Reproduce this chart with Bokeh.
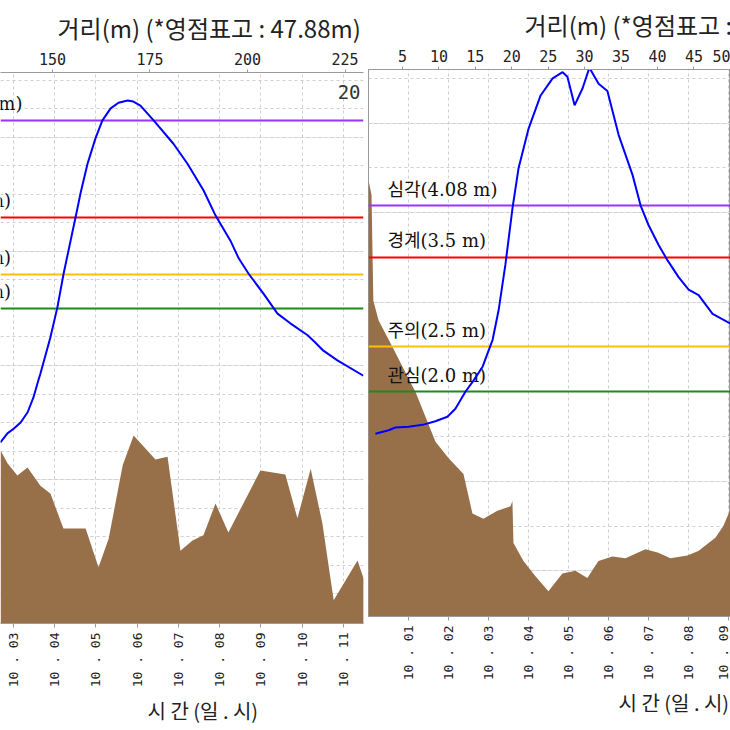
import math
from bokeh.plotting import figure
from bokeh.models import Range1d, LinearAxis, FixedTicker, Grid, Label, Title
from bokeh.layouts import row
from bokeh.embed import file_html
from bokeh.resources import INLINE
from bokeh.core.properties import value

# ---------------- texts ----------------
distance_title = "거리(m) (*영점표고 : 47.88m)"
time_title = "시 간 (일 . 시)"

threshold_colors = ["#9933ff", "#ff0000", "#ffc000", "#1a8c1a"]

# ---------------- left panel data ----------------
# time in hours from day 10, 00:00
left_time_ticks = [3, 4, 5, 6, 7, 8, 9, 10, 11]
left_time_labels = ["10 . 03", "10 . 04", "10 . 05", "10 . 06", "10 . 07",
                    "10 . 08", "10 . 09", "10 . 10", "10 . 11"]
left_dist_ticks = [150, 175, 200, 225]

left_level_t = [2.69, 2.86, 3.01, 3.18, 3.35, 3.49, 3.61, 3.66, 3.90, 4.07, 4.22,
                4.51, 4.63, 4.80, 4.99, 5.16, 5.36, 5.55, 5.77, 5.91, 6.08, 6.40,
                6.88, 7.22, 7.61, 7.90, 8.26, 8.46, 8.70, 9.06, 9.40, 9.71, 10.13,
                10.32, 10.51, 10.85, 11.48]
left_level = [2.65, 2.81, 2.89, 3.00, 3.18, 3.44, 3.74, 3.86, 4.49, 5.02, 5.61,
              6.60, 7.02, 7.54, 7.98, 8.30, 8.51, 8.61, 8.65, 8.63, 8.56, 8.30,
              7.89, 7.54, 7.07, 6.63, 6.19, 5.88, 5.61, 5.26, 4.91, 4.74, 4.53,
              4.40, 4.26, 4.09, 3.82]

left_ground_d = [136.7, 138.5, 141.0, 143.6, 146.9, 149.5, 152.8, 158.5, 161.8,
                 164.4, 168.0, 170.8, 176.4, 179.5, 182.8, 185.9, 188.7, 191.8,
                 195.1, 203.3, 209.7, 212.8, 216.2, 219.2, 222.1, 228.2, 229.8]
left_ground_z = [2.51, 2.28, 2.07, 2.21, 1.89, 1.75, 1.14, 1.14, 0.46, 0.96, 2.25,
                 2.77, 2.35, 2.40, 0.75, 0.93, 1.02, 1.58, 1.07, 2.16, 2.09, 1.32,
                 2.19, 1.23, -0.12, 0.58, 0.26]

left_threshold_values = [8.30, 6.6, 5.6, 5.0]
left_threshold_labels = ["심각(8.30 m)", "경계(6.6 m)", "주의(5.6 m)", "관심(5.0 m)"]

# ---------------- right panel data ----------------
right_time_ticks = [1, 2, 3, 4, 5, 6, 7, 8, 9]
right_time_labels = ["10 . 01", "10 . 02", "10 . 03", "10 . 04", "10 . 05",
                     "10 . 06", "10 . 07", "10 . 08", "10 . 09"]
right_dist_ticks = [5, 10, 15, 20, 25, 30, 35, 40, 45, 50]

right_level_t = [0.18, 0.51, 0.68, 1.01, 1.36, 1.68, 1.98, 2.18, 2.43, 2.61, 2.86,
                 3.11, 3.26, 3.43, 3.61, 3.76, 4.01, 4.31, 4.61, 4.86, 4.98, 5.16,
                 5.36, 5.53, 5.76, 5.98, 6.26, 6.61, 6.81, 7.01, 7.26, 7.48, 7.76,
                 8.01, 8.26, 8.61, 9.06]
right_level = [1.53, 1.57, 1.60, 1.61, 1.63, 1.67, 1.72, 1.81, 2.00, 2.11, 2.28,
               2.58, 2.91, 3.42, 4.06, 4.50, 4.94, 5.31, 5.50, 5.57, 5.52, 5.20,
               5.39, 5.62, 5.44, 5.36, 4.87, 4.42, 4.08, 3.86, 3.64, 3.47, 3.28,
               3.14, 3.08, 2.87, 2.76]

right_ground_d = [0.34, 0.75, 1.0, 1.71, 3.63, 6.37, 6.78, 9.53, 11.31, 13.37, 14.6,
                  16.1, 18.03, 19.82, 20.09, 20.23, 21.6, 23.25, 25.03, 26.95,
                  28.74, 30.38, 31.89, 33.81, 35.6, 38.34, 40.12, 41.77, 44.1,
                  45.6, 47.94, 49.04, 50.02]
right_ground_z = [4.36, 4.20, 3.02, 2.80, 2.50, 2.06, 2.00, 1.44, 1.26, 1.08, 0.64,
                  0.58, 0.67, 0.72, 0.78, 0.31, 0.11, -0.06, -0.23, -0.03, 0.0,
                  -0.08, 0.11, 0.16, 0.14, 0.24, 0.20, 0.14, 0.17, 0.22, 0.37,
                  0.50, 0.69]

right_threshold_values = [4.08, 3.5, 2.5, 2.0]
right_threshold_labels = ["심각(4.08 m)", "경계(3.5 m)", "주의(2.5 m)", "관심(2.0 m)"]

GROUND = "#97704a"
AXIS = "#9a9a9a"
KR = "Noto Sans CJK KR"
MONO = "DejaVu Sans Mono"


def make_panel(width, t_range, z_range, d_range, time_ticks, time_labels,
               dist_ticks, lvl_t, lvl, gd, gz, th_vals, th_labels, label_t,
               borders, title_offset, xtitle_offset, xtitle_standoff, outline):
    bl, br, bt, bb = borders
    p = figure(width=width, height=730, x_range=Range1d(*t_range),
               y_range=Range1d(*z_range), x_axis_location="below",
               y_axis_location=None, toolbar_location=None,
               output_backend="svg", min_border_left=bl, min_border_right=br,
               min_border_top=bt, min_border_bottom=bb, title=distance_title)
    p.frame_align = False
    p.background_fill_color = "white"
    p.border_fill_color = "white"
    p.outline_line_color = AXIS if outline else None

    p.title.align = "left"
    p.title.offset = title_offset
    p.title.text_font = KR
    p.title.text_font_size = "24px"
    p.title.text_font_style = "normal"
    p.title.text_color = "#222222"
    p.title.standoff = 9

    # time axis (bottom)
    ax = p.xaxis[0]
    ax.ticker = FixedTicker(ticks=time_ticks)
    ax.major_label_overrides = {float(k): v for k, v in zip(time_ticks, time_labels)}
    ax.major_label_orientation = math.pi / 2
    ax.major_label_text_font = MONO
    ax.major_label_text_font_size = "13px"
    ax.major_label_text_color = "#222222"
    ax.axis_line_color = AXIS
    ax.major_tick_line_color = AXIS
    ax.major_tick_out = 4
    ax.major_tick_in = 0
    ax.minor_tick_line_color = None
    ax.major_label_standoff = 5
    p.xgrid.ticker = FixedTicker(ticks=time_ticks)
    p.xgrid.grid_line_color = "#cfcfcf"
    p.xgrid.grid_line_dash = "3 3"

    p.add_layout(Title(text=time_title, align="left", offset=xtitle_offset,
                       standoff=xtitle_standoff, text_font=KR,
                       text_font_size="20px", text_font_style="normal",
                       text_color="#222222"), "below")

    # distance axis (top)
    p.extra_x_ranges = {"dist": Range1d(*d_range)}
    top = LinearAxis(x_range_name="dist", ticker=FixedTicker(ticks=dist_ticks))
    top.major_label_text_font = MONO
    top.major_label_text_font_size = "15px"
    top.major_label_text_color = "#222222"
    top.axis_line_color = AXIS
    top.major_tick_line_color = AXIS
    top.major_tick_out = 3
    top.major_tick_in = 0
    top.minor_tick_line_color = None
    top.major_label_standoff = 5
    p.add_layout(top, "above")

    # horizontal grid every 0.5 m
    p.add_layout(Grid(dimension=1, ticker=FixedTicker(
        ticks=[k * 0.5 for k in range(-2, 20)]),
        grid_line_color="#cfcfcf", grid_line_dash="3 3"))

    # ground profile
    p.varea(x=gd, y1=[z_range[0] - 1] * len(gd), y2=gz, fill_color=GROUND,
            x_range_name="dist")

    # thresholds
    p.hspan(y=th_vals, line_color=threshold_colors, line_width=2)
    p.text(x=[label_t] * len(th_vals), y=th_vals, text=th_labels,
           text_font=value("DejaVu Serif, Noto Sans CJK KR"),
           text_font_size="18px", text_color="#111111",
           text_baseline="bottom", text_align="left", y_offset=-6)

    # water level
    p.line(lvl_t, lvl, line_color="#0000ff", line_width=2)
    return p


left = make_panel(366, (2.6925, 11.482), (-0.526, 9.14), (136.67, 229.74),
                  left_time_ticks, left_time_labels, left_dist_ticks,
                  left_level_t, left_level, left_ground_d, left_ground_z,
                  left_threshold_values, left_threshold_labels, 0.56,
                  (0, 3, 72, 107), 57, 147, 6, False)
left.add_layout(Label(x=11.41, y=8.79, text="20", text_align="right",
                      text_baseline="middle", text_font=MONO,
                      text_font_size="19px", text_color="#333333"))

right = make_panel(364, (0.0075, 9.0575), (-0.511, 5.6), (0.336, 50.02),
                   right_time_ticks, right_time_labels, right_dist_ticks,
                   right_level_t, right_level, right_ground_d, right_ground_z,
                   right_threshold_values, right_threshold_labels, 0.48,
                   (2, 0, 66, 114), 156, 250, 4, True)

layout = row(left, right)
open("out.html", "w").write(file_html(layout, INLINE))
